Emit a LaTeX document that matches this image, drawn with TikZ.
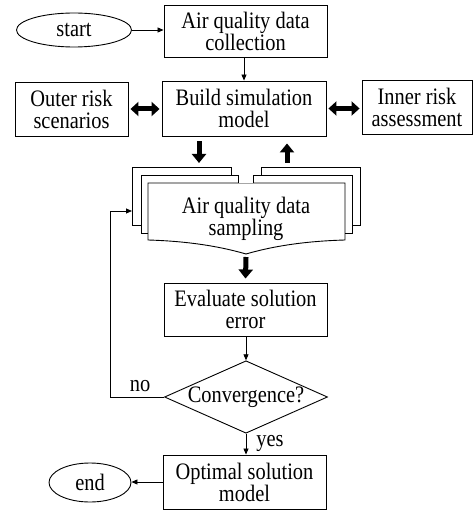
\documentclass[tikz,border=0pt]{standalone}
\usepackage{fontspec}
\setmainfont[FakeStretch=0.865]{Liberation Serif}
\usetikzlibrary{shapes.geometric,arrows.meta,calc}
\begin{document}
\begin{tikzpicture}[x=1pt,y=-1pt,
  font=\fontsize{23.6}{22}\selectfont,
  box/.style={draw, line width=0.9pt, align=center, inner sep=0pt},
  term/.style={draw, ellipse, line width=0.9pt, inner sep=0pt},
  flow/.style={line width=0.8pt, -{Triangle[length=6pt,width=5pt]}},
  bigflow/.style={line width=5pt, -{Triangle[length=9pt,width=14pt]}},
  bigboth/.style={line width=5pt, {Triangle[length=8pt,width=14pt]}-{Triangle[length=8pt,width=14pt]}, shorten <=2pt, shorten >=2pt},
  doc/.style={line width=0.9pt},
  lbl/.style={inner sep=0pt}]
\useasboundingbox (0,0) rectangle (473,510);

% terminals and process boxes
\node[term, minimum width=115pt, minimum height=34pt] (start) at (74,30) {start};
\node[box, minimum width=163pt, minimum height=52pt] (collect) at (245.5,31) {Air quality data\\collection};
\node[box, minimum width=164pt, minimum height=55pt] (build) at (244,108.5) {Build simulation\\model};
\node[box, minimum width=113pt, minimum height=54pt] (outer) at (71.5,109) {Outer risk\\scenarios};
\node[box, minimum width=110pt, minimum height=54pt] (inner) at (417,107) {Inner risk\\assessment};
\node[box, minimum width=163pt, minimum height=53pt] (eval) at (245.5,309.5) {Evaluate solution\\error};
\node[draw, diamond, line width=0.9pt, inner sep=0pt, aspect=2.25,
      minimum width=162pt, minimum height=72pt] (conv) at (246,397) {Convergence?};
\node[box, minimum width=163pt, minimum height=54pt] (optimal) at (244.5,482) {Optimal solution\\model};
\node[term, minimum width=82pt, minimum height=39pt] (end) at (90,482.5) {end};

% stacked documents: data sampling
\draw[doc] (141,225) -- (132,225) -- (132,167) -- (231,167) -- (231,175);
\draw[doc] (148,233) -- (141,233) -- (141,175) -- (238,175) -- (238,183);
\draw[doc] (261,175) -- (261,167) -- (360,167) -- (360,225) -- (352,225);
\draw[doc] (253,183) -- (253,175) -- (352,175) -- (352,233) -- (345,233);
\draw[doc] (238,183) -- (148,183) -- (148,240)
  .. controls (182,241) and (215,245) .. (246,254)
  .. controls (277,245) and (310,241) .. (345,240) -- (345,183) -- (253,183);
\draw[line width=0.9pt, black!35] (238,183) -- (253,183);
\node[lbl, align=center] (sampling) at (246,219) {Air quality data\\sampling};
\coordinate (sampIn) at (132,211);
\coordinate (sampTopL) at (199,163);
\coordinate (sampTopR) at (287,163);
\coordinate (sampBot) at (246,257);

% connectors
\draw[flow] (start.east) -- (start.east -| collect.west);
\draw[flow] (collect.south -| build.north) -- (build.north);
\draw[bigboth] (outer.east) -- (outer.east -| build.west);
\draw[bigboth] (build.east) -- (build.east -| inner.west);
\draw[bigflow] ($(build.south -| sampTopL)+(0,5)$) -- (sampTopL);
\draw[bigflow] (sampTopR) -- ($(build.south -| sampTopR)+(0,7)$);
\draw[bigflow] (sampBot) -- ($(eval.north)+(0,-4)$);
\draw[flow] (eval.south -| conv.north) -- (conv.north);
\draw[flow] (conv.south) -- (conv.south |- optimal.north);
\draw[line width=0.8pt, -{Triangle[length=6pt,width=5pt]}] (conv.west) -- ++(-54,0) |- (sampIn);
\draw[flow] (optimal.west) -- (optimal.west -| end.east);

% branch labels
\node[lbl] at (140,386) {no};
\node[lbl] at (270,443) {yes};
\end{tikzpicture}
\end{document}
